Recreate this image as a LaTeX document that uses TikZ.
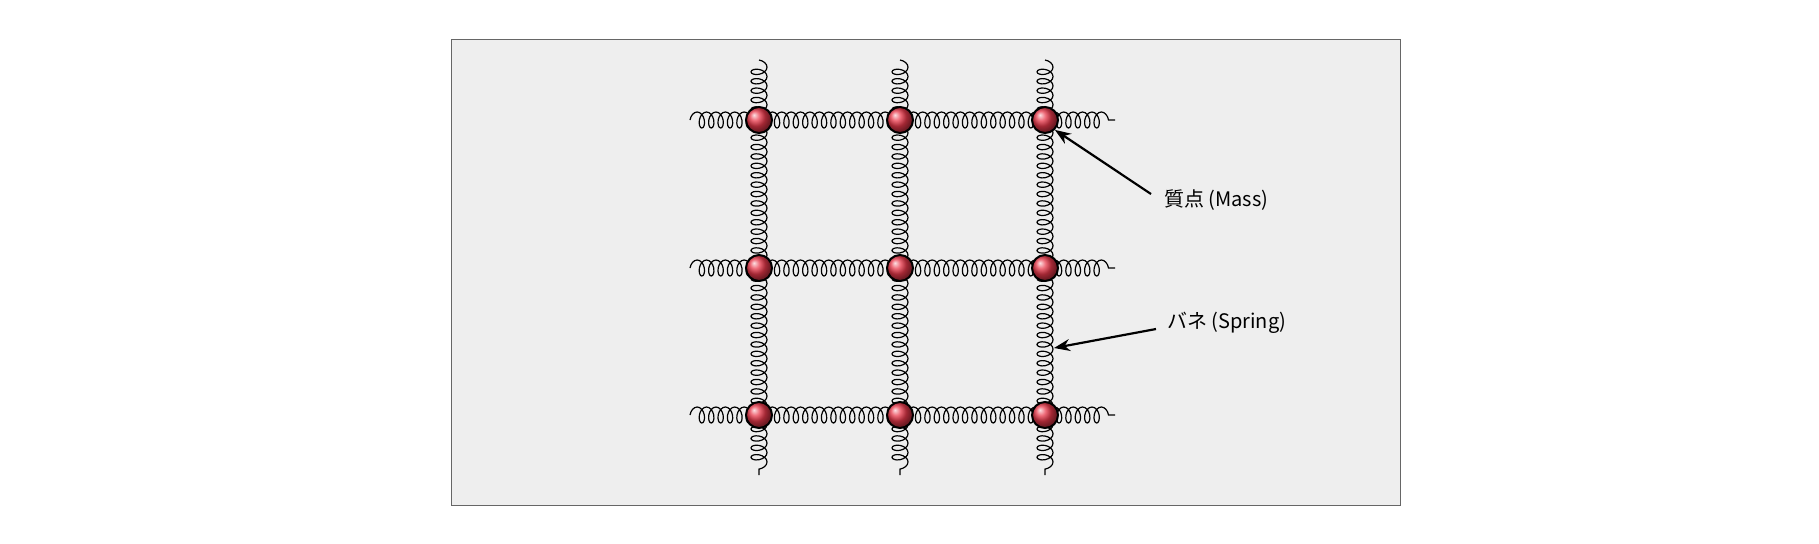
\documentclass[tikz,border=0pt]{standalone}
\usepackage{fontspec}
\setmainfont{Noto Sans CJK JP}
\usetikzlibrary{decorations.pathmorphing,arrows.meta}
\definecolor{bg}{HTML}{EEEEEE}
\definecolor{massred}{HTML}{E8384A}
\begin{document}
\begin{tikzpicture}[x=0.5pt,y=-0.5pt,
  spring/.style={decorate,decoration={coil,aspect=0.6,amplitude=4pt,segment length=4.7pt},line width=0.6pt,black},
  mass/.style={circle,draw=black,line width=1pt,minimum size=13pt,inner sep=0pt,shading=ball,ball color=massred},
  lbl/.style={font=\fontsize{10}{12}\selectfont,anchor=west},
  arr/.style={-{Stealth[length=8pt,width=6pt]},line width=1.1pt}]
\useasboundingbox (0,0) rectangle (1819,543);
\draw[fill=bg,draw=black!60,line width=0.5pt] (451,39) rectangle (1400,505);
\foreach \y in {120,268,415} \draw[spring] (690,\y) -- (1115,\y);
\foreach \x in {759,900,1045} \draw[spring] (\x,60) -- (\x,475);
\foreach \x/\i in {759/1,900/2,1045/3}
  \foreach \y/\j in {120/1,268/2,415/3}
    \node[mass] (m\i\j) at (\x,\y) {};
\node[lbl] (tm) at (1157,200) {質点 (Mass)};
\node[lbl] (ts) at (1160,323) {バネ (Spring)};
\coordinate (sp) at (1054,348);
\draw[arr] (tm.west) ++(-6,-6) -- (m31.south east);
\draw[arr] (ts.west) ++(-4,6) -- (sp);
\end{tikzpicture}
\end{document}
